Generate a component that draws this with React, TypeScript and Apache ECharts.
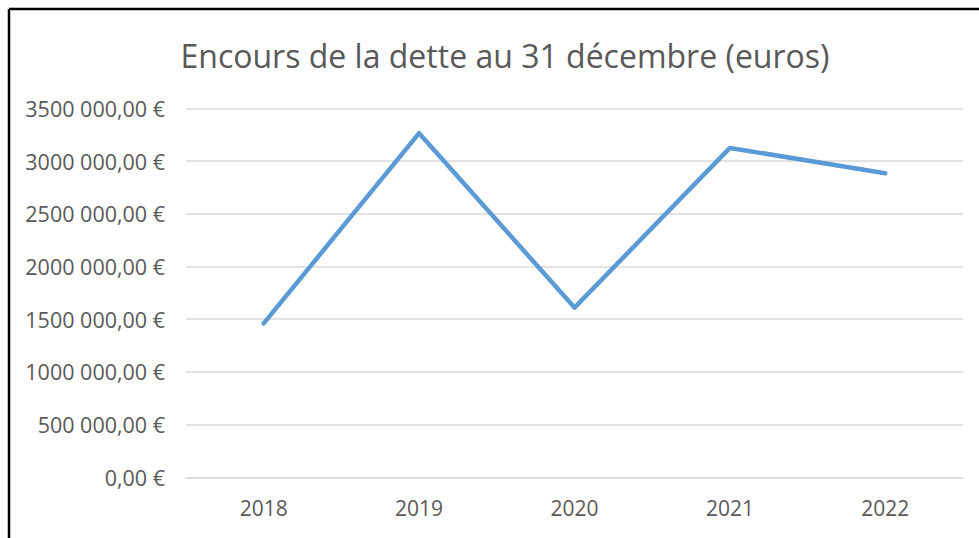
import React, { useEffect, useRef } from "react";
import * as echarts from "echarts";

const titleText = "Encours de la dette au 31 décembre (euros)";
const years = ["2018", "2019", "2020", "2021", "2022"];
const debt = [1460000, 3265000, 1610000, 3125000, 2885000];
const yTickValues = [0, 500000, 1000000, 1500000, 2000000, 2500000, 3000000, 3500000];
const yTickLabels = [
  "0,00 €",
  "500 000,00 €",
  "1000 000,00 €",
  "1500 000,00 €",
  "2000 000,00 €",
  "2500 000,00 €",
  "3000 000,00 €",
  "3500 000,00 €",
];

const FONT = "Open Sans";

export default function App() {
  const ref = useRef<HTMLDivElement>(null);
  useEffect(() => {
    if (!ref.current) return;
    const chart = echarts.init(ref.current, undefined, { renderer: "svg" });
    chart.setOption({
      animation: false,
      backgroundColor: "#ffffff",
      title: {
        text: titleText,
        left: 500,
        textAlign: "center",
        top: 34,
        textStyle: {
          fontFamily: FONT,
          fontSize: 32,
          fontWeight: 400,
          color: "#595959",
        },
      },
      grid: { left: 186, right: 16, top: 108.4, bottom: 60.7, containLabel: false },
      xAxis: {
        type: "category",
        data: years,
        boundaryGap: true,
        axisLine: { show: true, lineStyle: { color: "#d9d9d9", width: 1.5 } },
        axisTick: { show: false },
        axisLabel: {
          margin: 20,
          fontFamily: FONT,
          fontSize: 21,
          color: "#595959",
        },
      },
      yAxis: {
        type: "value",
        min: 0,
        max: 3500000,
        interval: 500000,
        axisLine: { show: false },
        axisTick: { show: false },
        splitLine: { lineStyle: { color: "#d9d9d9", width: 1.5 } },
        axisLabel: {
          margin: 21,
          fontFamily: FONT,
          fontSize: 21.5,
          color: "#595959",
          formatter: (v: number) => {
            const i = yTickValues.indexOf(v);
            return i >= 0 ? yTickLabels[i] : "";
          },
        },
      },
      series: [
        {
          type: "line",
          data: debt,
          symbol: "none",
          lineStyle: { color: "#5b9bd5", width: 4.5, cap: "round", join: "round" },
        },
      ],
      graphic: [
        {
          type: "line",
          shape: { x1: 9, y1: 9, x2: 979, y2: 9 },
          style: { stroke: "#000000", lineWidth: 2.5 },
        },
        {
          type: "line",
          shape: { x1: 9, y1: 9, x2: 9, y2: 538 },
          style: { stroke: "#000000", lineWidth: 2.5 },
        },
      ],
    });
    return () => chart.dispose();
  }, []);
  return (
    <div
      ref={ref}
      style={{ position: "fixed", left: 0, top: 0, width: 979, height: 538 }}
    />
  );
}
